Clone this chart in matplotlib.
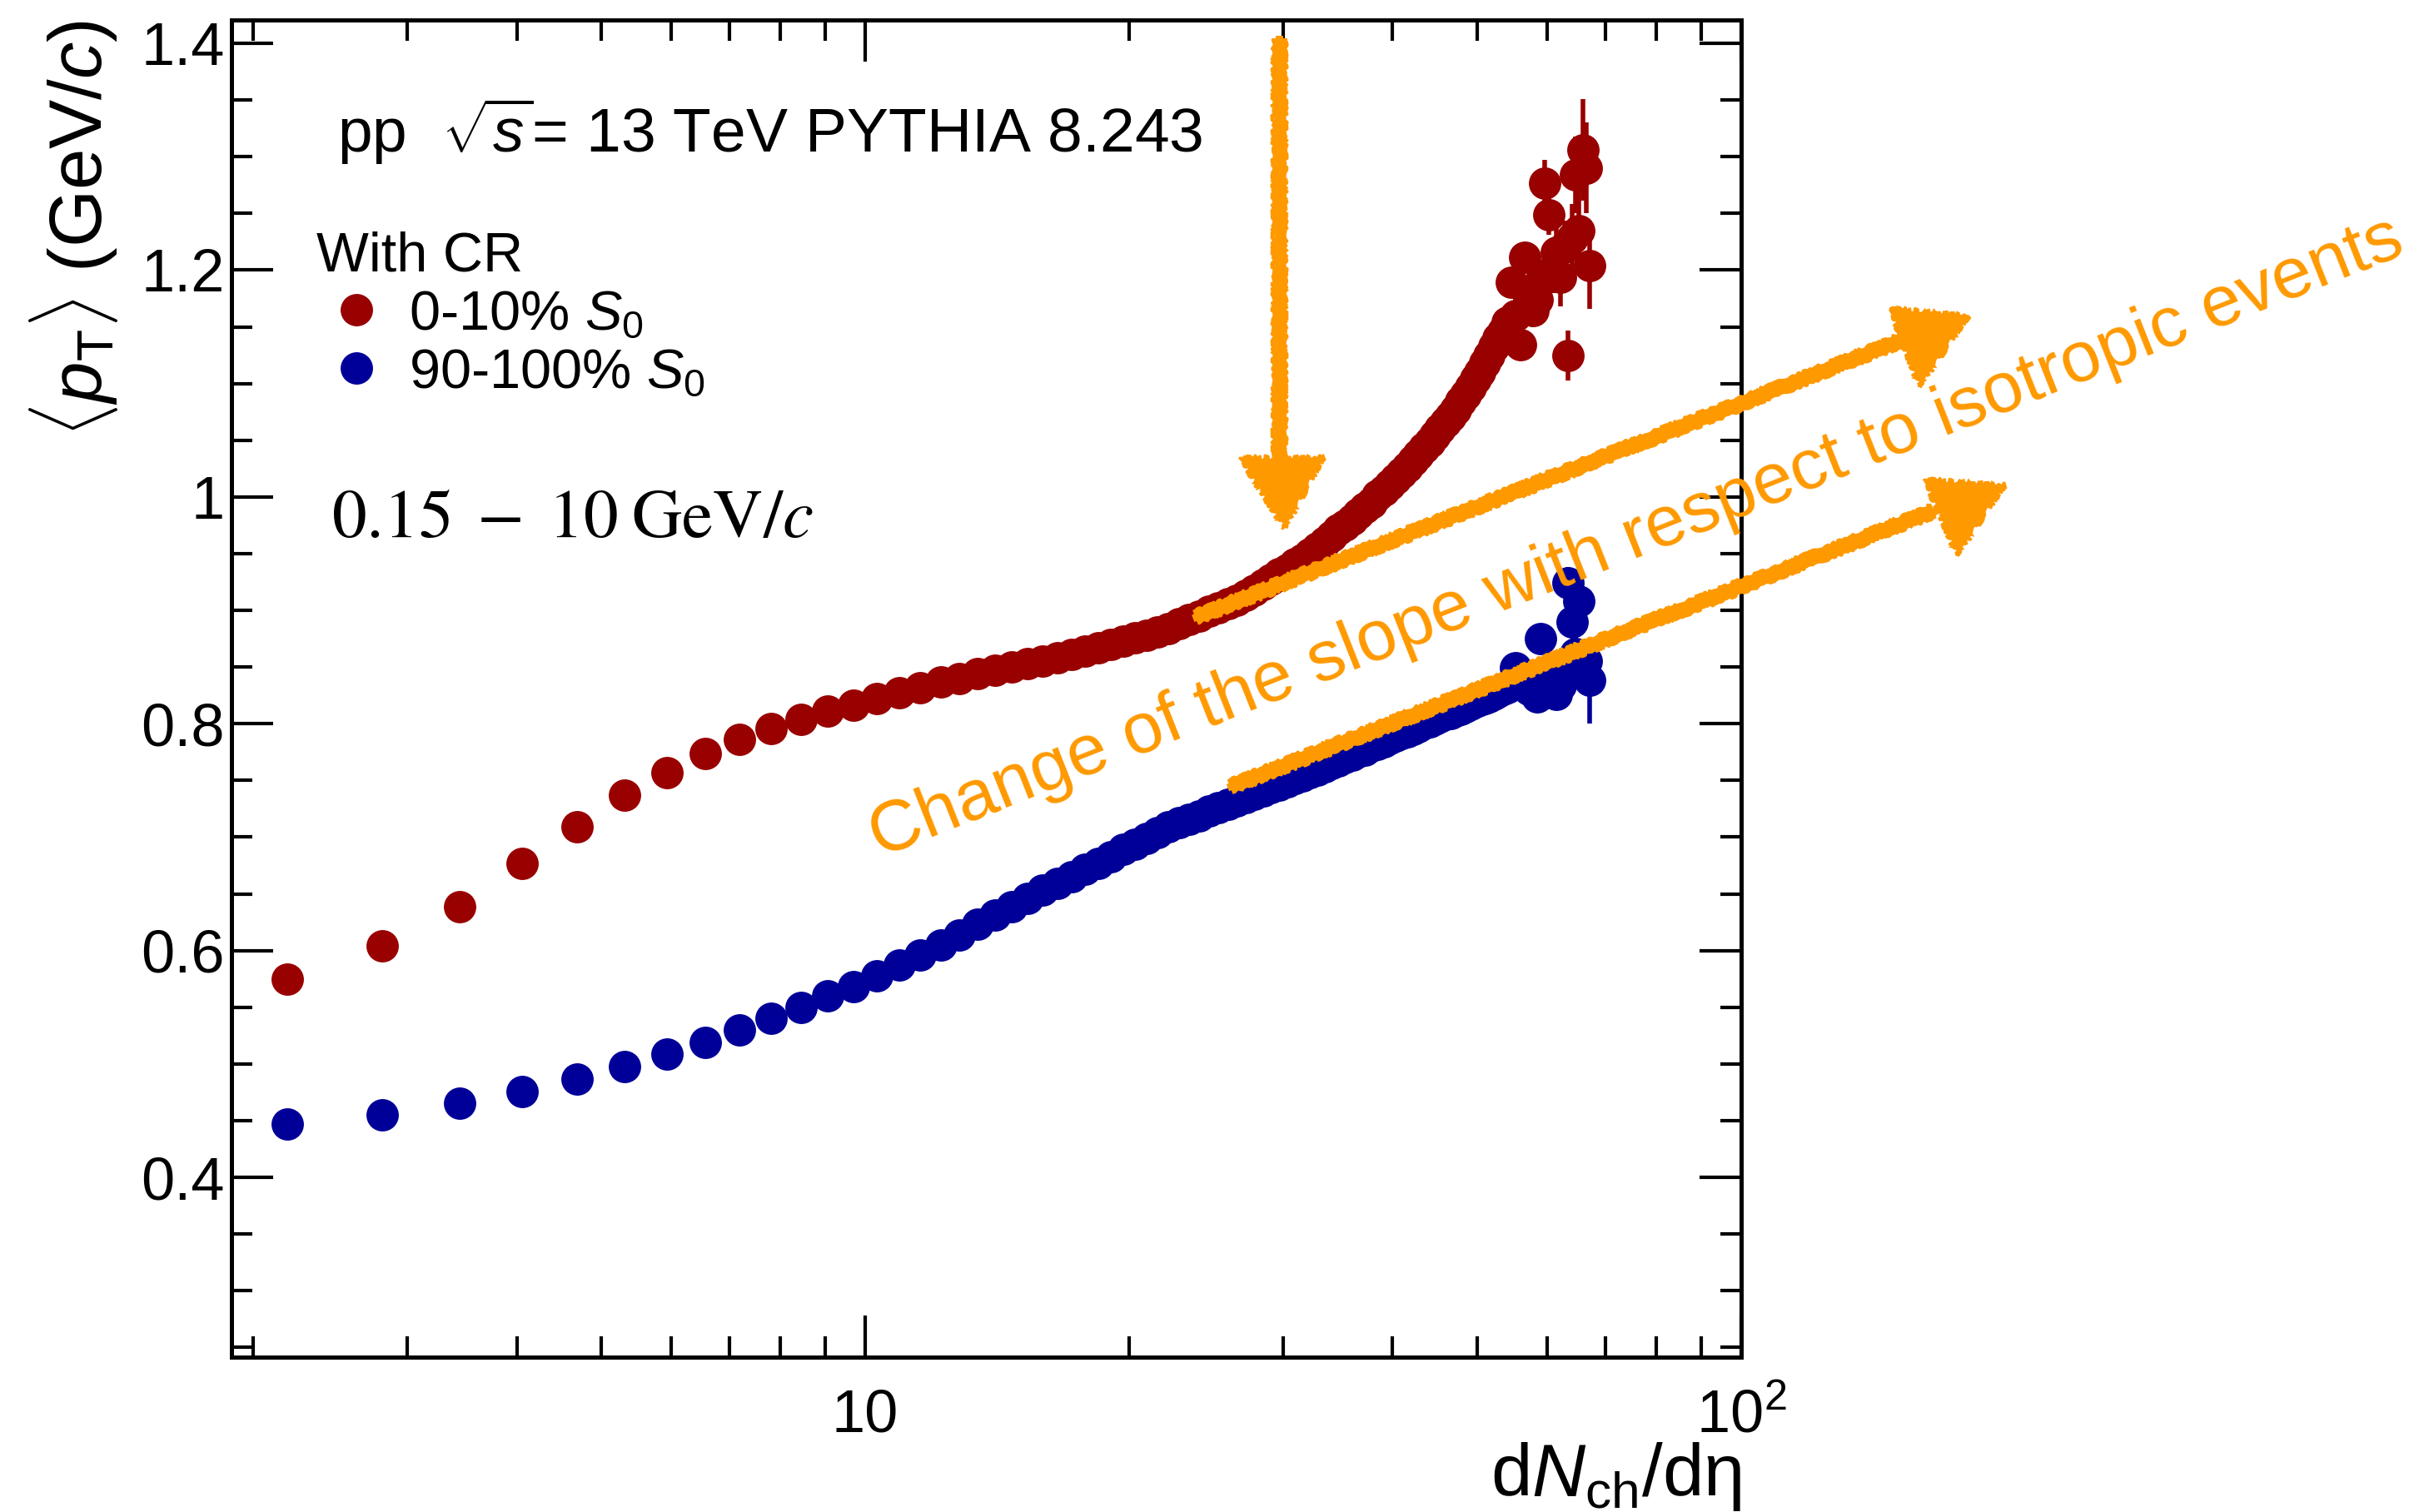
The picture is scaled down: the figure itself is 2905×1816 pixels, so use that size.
import numpy as np
import matplotlib
matplotlib.use('Agg')
import matplotlib.pyplot as plt
from matplotlib import transforms
from matplotlib.lines import Line2D
from matplotlib.ticker import FixedLocator, MultipleLocator, LogLocator, NullFormatter

plt.rcParams['font.family'] = ['Liberation Sans', 'DejaVu Sans']
plt.rcParams['mathtext.fontset'] = 'custom'
plt.rcParams['mathtext.rm'] = 'Liberation Sans'
plt.rcParams['mathtext.it'] = 'Liberation Sans:italic'
plt.rcParams['mathtext.bf'] = 'Liberation Sans:bold'

RED = '#990000'
BLUE = '#000099'
ORANGE = '#ff9900'

# dNch/deta bin centres
dndeta = [2.19, 2.81, 3.44, 4.06, 4.69, 5.31, 5.94, 6.56, 7.19, 7.81,
          8.44, 9.06, 9.69, 10.31, 10.94, 11.56, 12.19, 12.81, 13.44, 14.06,
          14.69, 15.31, 15.94, 16.56, 17.19, 17.81, 18.44, 19.06, 19.69, 20.31,
          20.94, 21.56, 22.19, 22.81, 23.44, 24.06, 24.69, 25.31, 25.94, 26.56,
          27.19, 27.81, 28.44, 29.06, 29.69, 30.31, 30.94, 31.56, 32.19, 32.81,
          33.44, 34.06, 34.69, 35.31, 35.94, 36.56, 37.19, 37.81, 38.44, 39.06,
          39.69, 40.31, 40.94, 41.56, 42.19, 42.81, 43.44, 44.06, 44.69, 45.31,
          45.94, 46.56, 47.19, 47.81, 48.44, 49.06, 49.69, 50.31, 50.94, 51.56,
          52.19, 52.81, 53.44, 54.06, 54.69, 55.31, 55.94, 56.56, 57.19, 57.81,
          58.44, 59.06, 59.69, 60.31, 60.94, 61.56, 62.19, 62.81, 63.44, 64.06,
          64.69, 65.31, 65.94, 66.56, 67.19]

# <pT> for 0-10% S0
mpt_s0_low = [0.575, 0.604, 0.639, 0.677, 0.709, 0.737, 0.757, 0.774, 0.786, 0.796,
              0.804, 0.811, 0.816, 0.822, 0.827, 0.832, 0.837, 0.840, 0.844, 0.847,
              0.850, 0.853, 0.855, 0.858, 0.861, 0.864, 0.867, 0.870, 0.873, 0.876,
              0.878, 0.881, 0.884, 0.888, 0.892, 0.895, 0.899, 0.902, 0.906, 0.909,
              0.913, 0.918, 0.923, 0.927, 0.932, 0.936, 0.941, 0.945, 0.950, 0.955,
              0.960, 0.965, 0.971, 0.975, 0.980, 0.985, 0.990, 0.995, 1.001, 1.006,
              1.011, 1.016, 1.021, 1.026, 1.032, 1.037, 1.043, 1.048, 1.054, 1.060,
              1.066, 1.071, 1.077, 1.084, 1.090, 1.097, 1.104, 1.110, 1.118, 1.125,
              1.133, 1.140, 1.146, 1.154, 1.189, 1.160, 1.134, 1.211, 1.175, 1.164,
              1.174, 1.190, 1.277, 1.249, 1.200, 1.216, 1.194, 1.220, 1.125, 1.228,
              1.284, 1.235, 1.306, 1.290, 1.204]

# <pT> for 90-100% S0
mpt_s0_high = [0.447, 0.455, 0.465, 0.476, 0.487, 0.498, 0.509, 0.519, 0.530, 0.540,
               0.550, 0.560, 0.568, 0.578, 0.587, 0.596, 0.605, 0.614, 0.623, 0.631,
               0.639, 0.646, 0.653, 0.659, 0.665, 0.672, 0.677, 0.683, 0.689, 0.694,
               0.699, 0.704, 0.709, 0.713, 0.716, 0.719, 0.723, 0.726, 0.729, 0.732,
               0.735, 0.738, 0.741, 0.744, 0.746, 0.749, 0.752, 0.754, 0.757, 0.759,
               0.762, 0.765, 0.767, 0.770, 0.772, 0.775, 0.777, 0.780, 0.782, 0.784,
               0.787, 0.789, 0.791, 0.793, 0.795, 0.797, 0.800, 0.802, 0.804, 0.806,
               0.808, 0.809, 0.811, 0.813, 0.815, 0.817, 0.819, 0.821, 0.822, 0.824,
               0.826, 0.828, 0.830, 0.832, 0.835, 0.849, 0.838, 0.836, 0.830, 0.842,
               0.824, 0.875, 0.828, 0.846, 0.833, 0.826, 0.834, 0.852, 0.924, 0.890,
               0.862, 0.908, 0.845, 0.855, 0.838]

# statistical errors of the last 23 bins (smaller ones are hidden by the markers)
err_low_tail = [0.004, 0.006, 0.008, 0.008, 0.010, 0.012, 0.012, 0.014, 0.014, 0.016,
                0.020, 0.018, 0.020, 0.022, 0.026, 0.024, 0.022, 0.030, 0.034, 0.036,
                0.045, 0.040, 0.038]
err_high_tail = [0.004, 0.004, 0.005, 0.006, 0.006, 0.007, 0.007, 0.008, 0.008, 0.010,
                 0.009, 0.010, 0.011, 0.012, 0.012, 0.013, 0.014, 0.015, 0.016, 0.017,
                 0.018, 0.020, 0.038]

x = np.array(dndeta)
y_low = np.array(mpt_s0_low)
y_high = np.array(mpt_s0_high)
e_low = np.concatenate([np.zeros(len(x) - len(err_low_tail)), err_low_tail])
e_high = np.concatenate([np.zeros(len(x) - len(err_high_tail)), err_high_tail])

fig = plt.figure(figsize=(29.05, 18.16), dpi=100)
ax = fig.add_axes([0.0957, 0.1024, 0.6241, 0.8844])

ax.errorbar(x, y_high, yerr=e_high, fmt='o', color=BLUE, ms=28, mew=0,
            elinewidth=4, capsize=0, zorder=3)
ax.errorbar(x, y_low, yerr=e_low, fmt='o', color=RED, ms=28, mew=0,
            elinewidth=4, capsize=0, zorder=3)

ax.set_xscale('log')
ax.set_xlim(1.89, 100)
ax.set_ylim(0.2414, 1.4206)

ax.xaxis.set_major_locator(FixedLocator([10, 100]))
ax.xaxis.set_minor_locator(LogLocator(subs=np.arange(2, 10)))
ax.xaxis.set_major_formatter(NullFormatter())
ax.xaxis.set_minor_formatter(NullFormatter())
ax.set_yticks([0.4, 0.6, 0.8, 1.0, 1.2, 1.4], labels=['0.4', '0.6', '0.8', '1', '1.2', '1.4'])
ax.yaxis.set_minor_locator(MultipleLocator(0.05))

ax.tick_params(which='both', direction='in', top=True, right=True, width=3)
ax.tick_params(which='major', length=36, labelsize=52, pad=6)
ax.tick_params(which='minor', length=18)
for sp in ax.spines.values():
    sp.set_linewidth(3.6)

# ROOT-style log labels sitting on a common baseline
xt = ax.get_xaxis_transform()
ax.text(10, -0.056, '10', transform=xt, ha='center', va='baseline', fontsize=52)
ax.text(100, -0.056, r'$10^{2}$', transform=xt, ha='center', va='baseline', fontsize=52)

ax.set_xlabel(r'd$N_{\rm ch}$/dη', fontsize=64, loc='right')
ax.xaxis.label.set_va('baseline')
ax.xaxis.set_label_coords(1.0, -0.104)
ax.set_ylabel(r'$\langle p_{\rm T}\rangle$ (GeV/$c$)', fontsize=64, loc='top')
ax.yaxis.set_label_coords(-0.074, 1.0)

ax.text(0.070, 0.901, r'pp  $\sqrt{s}$= 13 TeV PYTHIA 8.243', transform=ax.transAxes,
        fontsize=54, va='baseline')
ax.text(0.0662, 0.6133, r'$0.15\;-\;10\;\mathrm{GeV}/c$', transform=ax.transAxes,
        fontsize=60, va='baseline', math_fontfamily='stix')

handles = [Line2D([], [], ls='none', marker='o', ms=28, mew=0, color=RED),
           Line2D([], [], ls='none', marker='o', ms=28, mew=0, color=BLUE)]
ax.legend(handles, ['0-10% $S_{0}$', '90-100% $S_{0}$'], title='With CR',
          loc='upper left', bbox_to_anchor=(0.0563, 0.842), frameon=False,
          fontsize=48, title_fontsize=48, alignment='left', numpoints=1,
          handlelength=1.44, handletextpad=0.22, labelspacing=0.12,
          borderpad=0, borderaxespad=0)


def brush(xs, ys, width_px, strokes=8):
    """Streaky marker-pen stroke along a line given in data coordinates."""
    pts = ax.transData.transform(np.column_stack([xs, ys]))
    d = pts[-1] - pts[0]
    nrm = np.array([-d[1], d[0]]) / np.hypot(*d)
    core, = ax.plot(xs, ys, color=ORANGE, lw=width_px * 0.45 * 0.72,
                    clip_on=False, zorder=6)
    core.set_sketch_params(scale=1.5, length=40, randomness=20)
    for k in range(strokes):
        off = (k / (strokes - 1) - 0.5) * width_px * 0.8
        tr = transforms.offset_copy(ax.transData, fig=fig, x=nrm[0] * off,
                                    y=nrm[1] * off, units='dots')
        ln, = ax.plot(xs, ys, color=ORANGE, lw=2.2, transform=tr,
                      clip_on=False, zorder=6)
        ln.set_sketch_params(scale=1.5, length=18, randomness=40)


def brush_head(xs, ys):
    patch = ax.fill(xs, ys, color=ORANGE, lw=2, clip_on=False, zorder=6)[0]
    patch.set_sketch_params(scale=3, length=20, randomness=30)


# arrow marking where the 0-10% curve bends upwards
brush([29.68, 29.68], [1.404, 1.02], 20)
brush_head([26.78, 33.33, 30.1], [1.0344, 1.0344, 0.972])

# arrows along the slopes of both classes
brush([23.89, 152.9], [0.894, 1.1386], 20)
brush_head([147.8, 181.7, 159.7], [1.1662, 1.1596, 1.0973])
brush([26.17, 165.4], [0.7447, 0.9874], 20)
brush_head([161.9, 199.7, 176.3], [1.0153, 1.0101, 0.9485])

ax.text(10.38, 0.682, 'Change of the slope with respect to isotropic events',
        color=ORANGE, fontsize=62, rotation=21.6, rotation_mode='anchor',
        ha='left', va='baseline', zorder=7, clip_on=False)

fig.savefig('out.png', dpi=100)
